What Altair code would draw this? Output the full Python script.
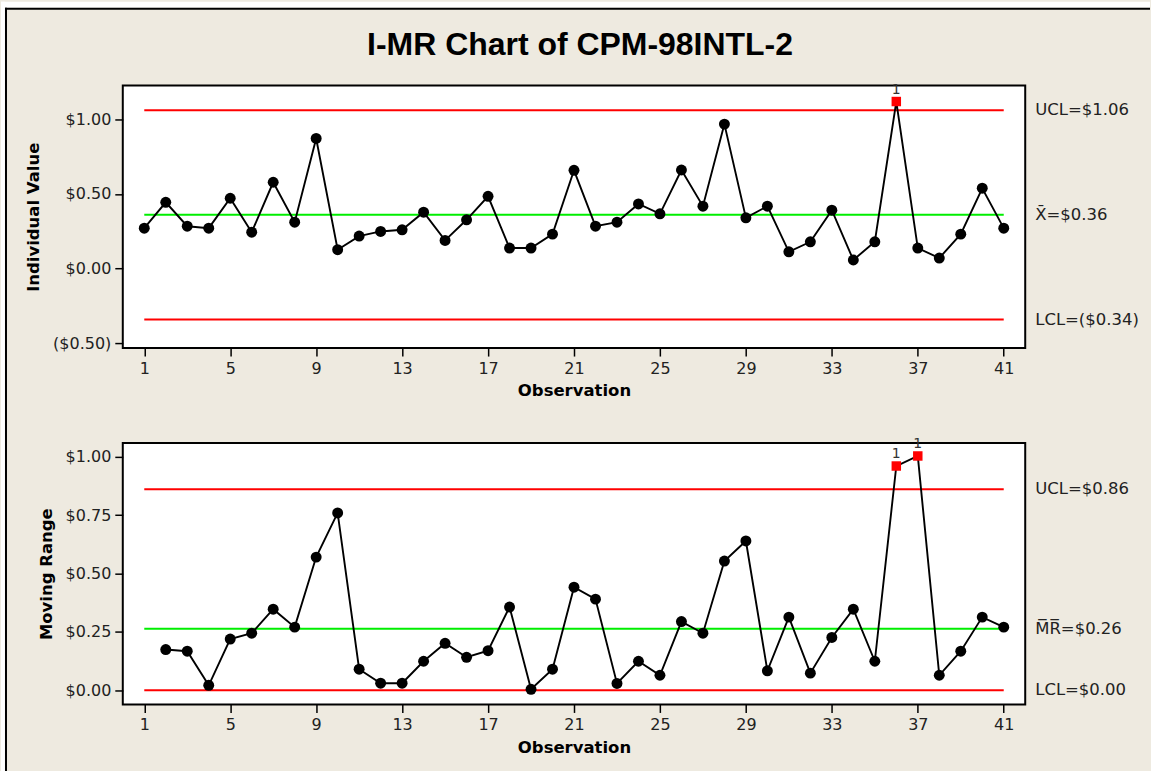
import altair as alt
import pandas as pd

# Observations and the two charted series (dollars)
obs = list(range(1, 42))
individual = [0.271, 0.444, 0.284, 0.271, 0.471, 0.244, 0.578, 0.311, 0.871, 0.127,
              0.218, 0.249, 0.260, 0.378, 0.189, 0.327, 0.484, 0.138, 0.138, 0.231,
              0.658, 0.284, 0.311, 0.433, 0.367, 0.660, 0.418, 0.967, 0.340, 0.418,
              0.113, 0.180, 0.391, 0.058, 0.180, 1.118, 0.138, 0.071, 0.231, 0.538,
              0.271]
moving_range = [None, 0.174, 0.167, 0.021, 0.219, 0.244, 0.347, 0.270, 0.570, 0.759,
                0.090, 0.030, 0.030, 0.124, 0.201, 0.141, 0.169, 0.356, 0.004, 0.090,
                0.441, 0.390, 0.029, 0.124, 0.064, 0.294, 0.244, 0.553, 0.639, 0.083,
                0.313, 0.073, 0.226, 0.347, 0.124, 0.960, 1.003, 0.064, 0.167, 0.313,
                0.270]

# Control limits: UCL, centre line, LCL
i_limits = [1.06, 0.36, -0.34]
i_names = ["UCL", "X\u0304", "LCL"]
mr_limits = [0.86, 0.263, 0.00]
mr_names = ["UCL", "M\u0305R\u0305", "LCL"]

x_ticks = list(range(1, 42, 4))
i_ticks = [-0.5, 0.0, 0.5, 1.0]
mr_ticks = [0.0, 0.25, 0.5, 0.75, 1.0]

FONT = "DejaVu Sans"
BG = "#EEEAE0"
W = 904
H_TOP, H_BOT = 263, 262
GAP = 95

LABEL_EXPR = ("datum.value < 0 ? '($' + format(-datum.value, '.2f') + ')' "
              ": '$' + format(datum.value, '.2f')")


def money(v):
    s = f"${abs(v):.2f}"
    return f"({s})" if v < 0 else s


one = pd.DataFrame({"k": [0]})


def px_rect(x1, x2, y1, y2, color):
    return alt.Chart(one).mark_rect(color=color, opacity=1).encode(
        x=alt.value(x1), x2=alt.value(x2), y=alt.value(y1), y2=alt.value(y2))


def control_panel(values, limits, names, y_title, y_domain, y_ticks, height):
    df = pd.DataFrame({"obs": obs, "value": values}).dropna()
    df["flag"] = df["value"] > limits[0]

    x = alt.X("obs:Q", scale=alt.Scale(domain=[0, 42], nice=False, zero=False),
              axis=alt.Axis(values=x_ticks, title="Observation", titlePadding=7))
    y = alt.Y("value:Q", scale=alt.Scale(domain=y_domain, nice=False, zero=False),
              axis=alt.Axis(values=y_ticks, title=y_title, labelExpr=LABEL_EXPR,
                            titlePadding=11))

    lim_df = pd.DataFrame({
        "obs": [1] * 3,
        "obs_end": [41] * 3,
        "value": limits,
        "color": ["#FF0000", "#00EE00", "#FF0000"],
        "label": [f"{n}={money(v)}" for n, v in zip(names, limits)],
    })

    rules = alt.Chart(lim_df).mark_rule(strokeWidth=2).encode(
        x=x, x2="obs_end:Q", y=y, color=alt.Color("color:N", scale=None))
    limit_labels = alt.Chart(lim_df).mark_text(
        align="left", baseline="middle", font=FONT, fontSize=16.5, color="#222"
    ).encode(x=alt.value(W + 10), y="value:Q", text="label:N")

    base = alt.Chart(df).encode(x=x, y=y)
    line = base.mark_line(color="black", strokeWidth=1.9)
    dots = base.transform_filter("!datum.flag").mark_circle(
        color="black", opacity=1, size=120)
    flagged = base.transform_filter("datum.flag").mark_square(
        color="#FF0000", opacity=1, size=90)
    flag_text = base.transform_filter("datum.flag").mark_text(
        text="1", dy=-8, baseline="alphabetic", font=FONT, fontSize=14,
        color="#333")

    return alt.layer(rules, line, dots, flagged, flag_text, limit_labels).properties(
        width=W, height=height)


top = control_panel(individual, i_limits, i_names, "Individual Value",
                    [-0.531, 1.225], i_ticks, H_TOP)
bottom = control_panel(moving_range, mr_limits, mr_names, "Moving Range",
                       [-0.061, 1.059], mr_ticks, H_BOT)

# Outer frame of the graph window and the main title, placed relative to the top panel
frame = [
    px_rect(-122, -118, -84, 687, "white"),
    px_rect(-122, 1029, -84, -78, "white"),
    px_rect(-118, -116, -78, 687, "black"),
    px_rect(-118, 1029, -78, -76, "black"),
]
title = alt.Chart(one).mark_text(
    text="I-MR Chart of CPM-98INTL-2", font="Liberation Sans", fontSize=32,
    fontWeight="bold", align="center", baseline="middle", color="black"
).encode(x=alt.value(458), y=alt.value(-41))

top = alt.layer(*frame, title, top)

chart = alt.vconcat(top, bottom, spacing=GAP, bounds="flush").properties(
    padding=0, background=BG
).configure_view(
    fill="white", stroke="black", strokeWidth=2
).configure_axis(
    grid=False, domain=False, tickColor="black", tickSize=8, tickWidth=1.5,
    labelFont=FONT, labelFontSize=16, labelColor="#222", labelPadding=4,
    titleFont=FONT, titleFontSize=16.5, titleFontWeight="bold", titleColor="black"
)

chart.save("out.html", embed_options={"renderer": "svg", "actions": False})
